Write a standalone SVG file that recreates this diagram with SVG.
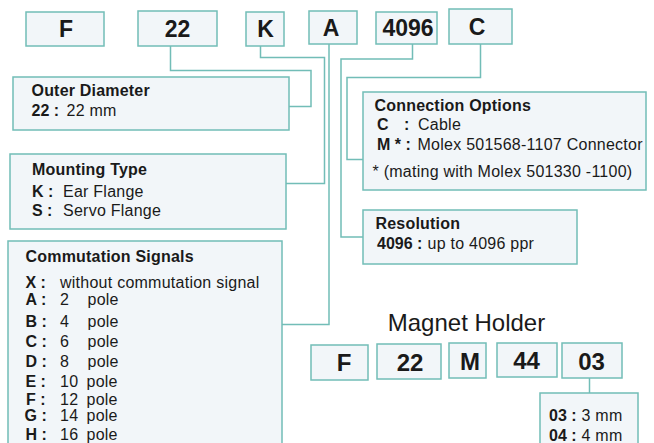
<svg xmlns="http://www.w3.org/2000/svg" width="654" height="443" viewBox="0 0 654 443">
<style>
.box{fill:#f2f6f9;stroke:#72bdb7;stroke-width:1.5}
.conn{fill:none;stroke:#72bdb7;stroke-width:1.5}
.code{font-family:"Liberation Sans",Arial,sans-serif;font-weight:bold;font-size:23px;fill:#1a1a1a;text-anchor:middle}
.code2{font-family:"Liberation Sans",Arial,sans-serif;font-weight:bold;font-size:24px;fill:#1a1a1a;text-anchor:middle}
.h{font-family:"Liberation Sans",Arial,sans-serif;font-weight:bold;font-size:16px;fill:#1a1a1a;letter-spacing:0.2px}
.k{font-family:"Liberation Sans",Arial,sans-serif;font-weight:bold;font-size:16px;fill:#1a1a1a}
.n{font-family:"Liberation Sans",Arial,sans-serif;font-size:16px;fill:#1a1a1a;letter-spacing:0.25px}
.title{font-family:"Liberation Sans",Arial,sans-serif;font-size:24px;fill:#1a1a1a;text-anchor:middle}
</style>
<g id="connectors">
<path class="conn" d="M170.5,46 V70.5 H311 V106.5 H289"/>
<path class="conn" d="M260.5,46 V57.5 H324.5 V183.5 H286"/>
<path class="conn" d="M329,44 V324.5 H282"/>
<path class="conn" d="M412.5,44 V59 H341 V237 H363"/>
<path class="conn" d="M480.5,44 V77.5 H347 V159.5 H363"/>
<path class="conn" d="M589.5,378 V393"/>
</g>
<g id="code-F"><rect class="box" x="26" y="12" width="78" height="34"/><text class="code" x="66" y="37">F</text></g>
<g id="code-22"><rect class="box" x="138" y="11" width="79" height="35"/><text class="code" x="177.5" y="37">22</text></g>
<g id="code-K"><rect class="box" x="246" y="12" width="38" height="34"/><text class="code" x="265.5" y="37">K</text></g>
<g id="code-A"><rect class="box" x="309" y="11" width="48" height="33"/><text class="code" x="331" y="36">A</text></g>
<g id="code-4096"><rect class="box" x="376" y="12" width="61" height="32"/><text class="code" x="408" y="36">4096</text></g>
<g id="code-C"><rect class="box" x="449" y="9" width="63" height="35"/><text class="code" x="477" y="35">C</text></g>

<g id="outer-diameter"><rect class="box" x="13" y="77" width="276" height="53"/>
<text class="h" x="31.5" y="95.5">Outer Diameter</text>
<text class="k" x="31.5" y="115.5">22 :</text><text class="n" x="66.5" y="115.5">22 mm</text></g>

<g id="mounting-type"><rect class="box" x="10" y="154" width="276" height="75"/>
<text class="h" x="32" y="174.5">Mounting Type</text>
<text class="k" x="32" y="196.5">K :</text><text class="n" x="63" y="196.5">Ear Flange</text>
<text class="k" x="32" y="216">S :</text><text class="n" x="63" y="216">Servo Flange</text></g>

<g id="commutation-signals"><rect class="box" x="8" y="241" width="274" height="215"/>
<text class="h" x="25.5" y="261.5">Commutation Signals</text>
<text class="k" x="25.5" y="287.5">X :</text><text class="n" x="60" y="287.5">without commutation signal</text>
<text class="k" x="25.5" y="305">A :</text><text class="n" x="60" y="305">2</text><text class="n" x="87.5" y="305">pole</text>
<text class="k" x="25.5" y="326.5">B :</text><text class="n" x="60" y="326.5">4</text><text class="n" x="87.5" y="326.5">pole</text>
<text class="k" x="25.5" y="346.5">C :</text><text class="n" x="60" y="346.5">6</text><text class="n" x="87.5" y="346.5">pole</text>
<text class="k" x="25.5" y="366.5">D :</text><text class="n" x="60" y="366.5">8</text><text class="n" x="87.5" y="366.5">pole</text>
<text class="k" x="25.5" y="386.5">E :</text><text class="n" x="60" y="386.5">10</text><text class="n" x="86.5" y="386.5">pole</text>
<text class="k" x="26" y="405">F :</text><text class="n" x="60" y="405">12</text><text class="n" x="86.5" y="405">pole</text>
<text class="k" x="24.5" y="421">G :</text><text class="n" x="60" y="421">14</text><text class="n" x="86.5" y="421">pole</text>
<text class="k" x="25.5" y="440">H :</text><text class="n" x="60" y="440">16</text><text class="n" x="86.5" y="440">pole</text></g>

<g id="connection-options"><rect class="box" x="363" y="92" width="283" height="98"/>
<text class="h" x="374.5" y="110.5">Connection Options</text>
<text class="k" x="377" y="130">C</text><text class="k" x="404" y="130">:</text><text class="n" x="418" y="130">Cable</text>
<text class="k" x="377" y="150">M * :</text><text class="n" x="417.5" y="150">Molex 501568-1107 Connector</text>
<text class="n" x="372.5" y="176.5">* (mating with Molex 501330 -1100)</text></g>

<g id="resolution"><rect class="box" x="363" y="210" width="214" height="54"/>
<text class="h" x="375.5" y="229">Resolution</text>
<text class="k" x="377" y="248.5">4096 :</text><text class="n" x="427.5" y="248.5">up to 4096 ppr</text></g>

<g id="magnet-holder-title"><text class="title" x="466.5" y="331">Magnet Holder</text></g>
<g id="mh-F"><rect class="box" x="311" y="345" width="57" height="35"/><text class="code2" x="344" y="371">F</text></g>
<g id="mh-22"><rect class="box" x="377" y="344" width="64" height="35"/><text class="code2" x="410" y="371">22</text></g>
<g id="mh-M"><rect class="box" x="449" y="343" width="37" height="35"/><text class="code2" x="470" y="370">M</text></g>
<g id="mh-44"><rect class="box" x="497" y="343" width="60" height="34"/><text class="code2" x="526.5" y="369">44</text></g>
<g id="mh-03"><rect class="box" x="562" y="343" width="60" height="35"/><text class="code2" x="591.5" y="370">03</text></g>
<g id="mh-thickness"><rect class="box" x="540" y="393" width="98" height="60"/>
<text class="k" x="549" y="421">03 :</text><text class="n" x="581.5" y="421">3 mm</text>
<text class="k" x="549" y="441">04 :</text><text class="n" x="581.5" y="441">4 mm</text></g>
</svg>
